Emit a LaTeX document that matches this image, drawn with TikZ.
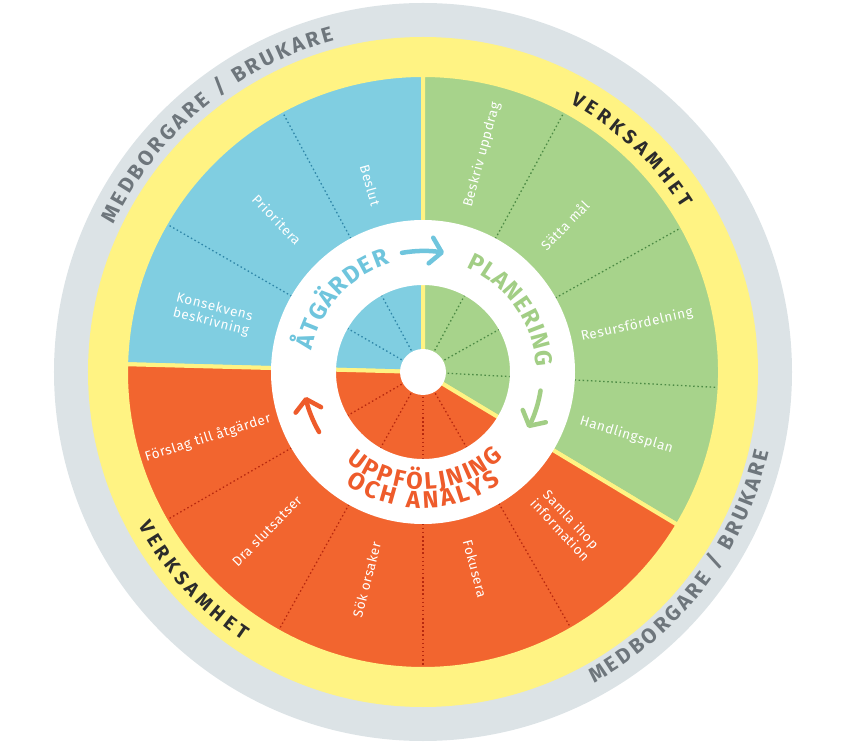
\documentclass[tikz,border=0pt]{standalone}
\usepackage{fontspec}
\setmainfont{Fira Sans}
\newfontfamily\wheelfont[LetterSpace=5]{Fira Sans}
\usetikzlibrary{arrows.meta, decorations.text}

\definecolor{ringgray}{RGB}{220, 227, 230}
\definecolor{wheelyellow}{RGB}{255, 243, 131}
\definecolor{secblue}{RGB}{128, 206, 225}
\definecolor{secgreen}{RGB}{167, 211, 139}
\definecolor{secorange}{RGB}{242, 101, 47}
\definecolor{dotblue}{RGB}{47, 134, 168}
\definecolor{dotgreen}{RGB}{77, 139, 69}
\definecolor{dotorange}{RGB}{184, 41, 15}
\definecolor{ringblue}{RGB}{111, 197, 221}
\definecolor{ringgreen}{RGB}{162, 206, 133}
\definecolor{ringorange}{RGB}{238, 91, 43}
\definecolor{outergray}{RGB}{110, 118, 124}
\definecolor{verkblack}{RGB}{43, 43, 43}

\newcommand\ringtxt{\bfseries\fontsize{24}{26}\selectfont}
\newcommand\outertxt{\bfseries\fontsize{21}{23}\selectfont}
\newcommand\verktxt{\bfseries\fontsize{19.5}{21}\selectfont}

\begin{document}
\begin{tikzpicture}[x=1pt, y=1pt,
    sector/.style={draw=wheelyellow, line width=4pt, line join=round},
    divider/.style={line width=1.3pt, dash pattern=on 1.5pt off 2.6pt},
    lbl/.style={text=white, font=\wheelfont\fontsize{13.5}{15}\selectfont, align=center, inner sep=0pt},
    arctext/.style={decorate, decoration={text along path, text align=fit to path}},
    cyc/.style={line width=4.5pt, line cap=round, -{Straight Barb[length=11pt, width=26pt, round]}},
  ]
  \useasboundingbox (-423,-374) rectangle (425,372);

  % outer rings
  \fill[ringgray] (0,0) circle (369);
  \fill[wheelyellow] (0,0) circle (335);

  % the three sectors
  \filldraw[sector, fill=secblue] (0,0) -- (90:297) arc (90:178.5:297) -- cycle;
  \filldraw[sector, fill=secgreen] (0,0) -- (-31:297) arc (-31:90:297) -- cycle;
  \filldraw[sector, fill=secorange] (0,0) -- (178.5:297) arc (178.5:329:297) -- cycle;

  % dotted steps
  \foreach \a in {118.4, 150} \draw[divider, dotblue] (0,0) -- (\a:294);
  \foreach \a in {61.5, 29.2, -3} \draw[divider, dotgreen] (0,0) -- (\a:294);
  \foreach \a in {210, 240.8, 270, 300} \draw[divider, dotorange] (0,0) -- (\a:294);

  % white ring and hub
  \fill[white, even odd rule] (0,0) circle (152) (0,0) circle (87);
  \fill[white] (0,0) circle (23);

  % step labels
  \node[lbl, rotate=-74.2] (beslut) at (105.8:194) {Beslut};
  \node[lbl, rotate=-46.2] (prio) at (133.8:211) {Prioritera};
  \node[lbl, rotate=-14] (kons) at (164.8:218) {Konsekvens\\beskrivning};
  \node[lbl, rotate=74.8] (uppdrag) at (74.8:225) {Beskriv uppdrag};
  \node[lbl, rotate=46] (mal) at (46:204) {Sätta mål};
  \node[lbl, rotate=12.4] (resurs) at (12.4:219) {Resursfördelning};
  \node[lbl, rotate=-17.2] (hplan) at (-17.2:213) {Handlingsplan};
  \node[lbl, rotate=17.5] (forslag) at (197:225) {Förslag till åtgärder};
  \node[lbl, rotate=45.5] (slut) at (225.5:223) {Dra slutsatser};
  \node[lbl, rotate=75.5] (orsak) at (254.8:215) {Sök orsaker};
  \node[lbl, rotate=-75.2] (fokus) at (-75.2:204) {Fokusera};
  \node[lbl, rotate=-47] (samla) at (-46.9:209) {Samla ihop\\information};

  % phase names in the white ring
  \path[arctext, decoration={text={|\ringtxt|ÅTGÄRDER}, text color=ringblue}]
    (169:113) arc (169:107:113);
  \path[arctext, decoration={text={|\ringtxt|PLANERING}, text color=ringgreen}]
    (67.5:113) arc (67.5:2.7:113);
  \path[arctext, decoration={text={|\ringtxt|UPPFÖLJNING}, text color=ringorange}]
    (229.3:117.5) arc (229.3:313.2:117.5);
  \path[arctext, decoration={text={|\ringtxt|OCH ANALYS}, text color=ringorange}]
    (235.4:136) arc (235.4:305:136);

  % cycle arrows
  \draw[cyc, ringblue] (100:121) arc (100:80:121);
  \draw[cyc, ringgreen] (-9:119) arc (-9:-28:119);
  \draw[cyc, ringorange] (210:120) arc (210:192:120);

  % outer texts
  \path[arctext, decoration={text={|\outertxt|MEDBORGARE / BRUKARE}, text color=outergray}]
    (154.5:343) arc (154.5:105:343);
  \path[arctext, decoration={text={|\outertxt|MEDBORGARE / BRUKARE}, text color=outergray}]
    (-61.2:355) arc (-61.2:-13:355);
  \path[arctext, decoration={text={|\verktxt|VERKSAMHET}, text color=verkblack}]
    (61.3:306.5) arc (61.3:32.3:306.5);
  \path[arctext, decoration={text={|\verktxt|VERKSAMHET}, text color=verkblack}]
    (208.4:323.5) arc (208.4:236.1:323.5);
\end{tikzpicture}
\end{document}
